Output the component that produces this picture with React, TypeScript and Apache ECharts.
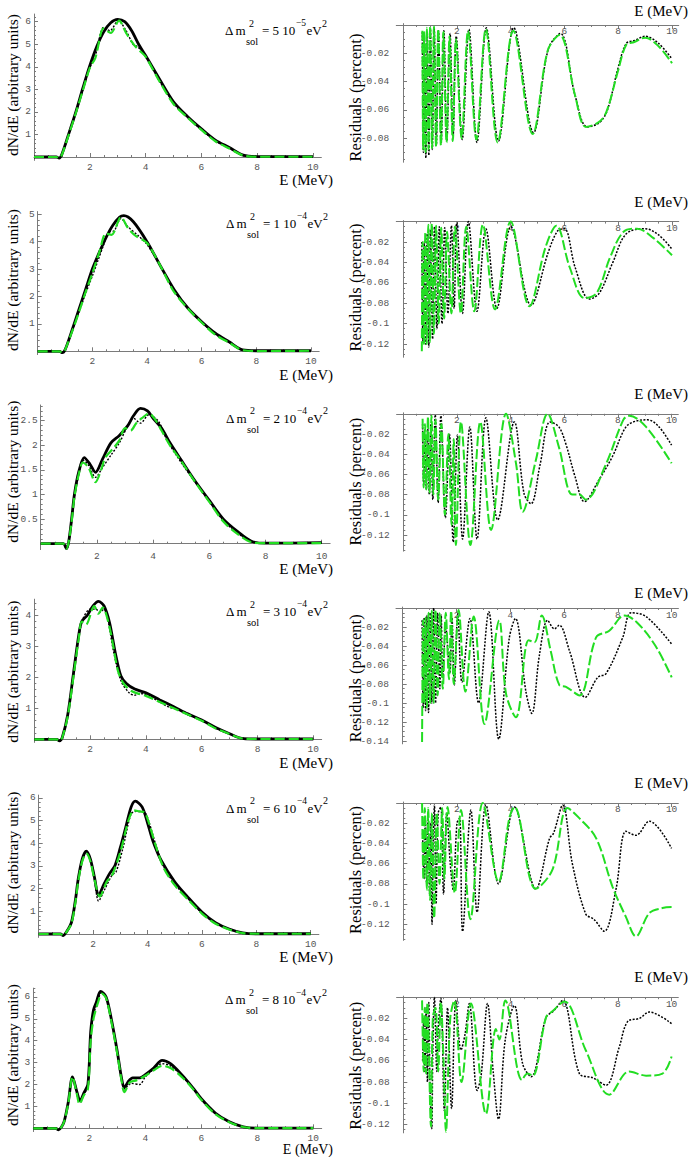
import React, { useEffect, useRef } from "react";
import * as echarts from "echarts";

// ---------------- data ----------------
const energyTicks = [2, 4, 6, 8, 10];
const dm2Mantissa = ["5", "1", "2", "3", "6", "8"];
const dm2Exponent = ["\u22125", "\u22124", "\u22124", "\u22124", "\u22124", "\u22124"];

const spectrumYTicks = [
  [1, 2, 3, 4, 5, 6],
  [1, 2, 3, 4, 5],
  [0.5, 1, 1.5, 2, 2.5],
  [1, 2, 3, 4],
  [1, 2, 3, 4, 5, 6],
  [1, 2, 3, 4, 5, 6],
];
const residualYTicks = [
  [-0.02, -0.04, -0.06, -0.08],
  [-0.02, -0.04, -0.06, -0.08, -0.1, -0.12],
  [-0.02, -0.04, -0.06, -0.08, -0.1, -0.12],
  [-0.02, -0.04, -0.06, -0.08, -0.1, -0.12, -0.14],
  [-0.02, -0.04, -0.06, -0.08, -0.1, -0.12],
  [-0.02, -0.04, -0.06, -0.08, -0.1, -0.12],
];

// Spectra dN/dE — dm2 = 5e-5
const spec1Solid = [[0,0],[0.5,0],[0.8,0],[0.9,-0.05],[1.0,0.12],[1.25,1.05],[1.5,2.0],[1.75,3.05],[2.0,4.05],[2.25,4.9],[2.5,5.55],[2.75,5.95],[3.0,6.1],[3.25,6.0],[3.5,5.6],[3.75,5.0],[4.0,4.5],[4.5,3.45],[5.0,2.45],[5.5,1.8],[6.0,1.25],[6.5,0.75],[7.0,0.42],[7.5,0.08],[8.0,0.02],[9.0,0.02],[10.0,0.02]];
const spec1Dotted = [[0,0],[0.5,0],[0.8,0],[0.9,-0.05],[1.0,0.1],[1.25,1.0],[1.5,1.95],[1.75,2.95],[2.0,3.95],[2.2,4.5],[2.5,5.75],[2.72,5.6],[3.02,6.05],[3.3,5.6],[3.55,5.0],[3.7,4.9],[4.0,4.5],[4.5,3.35],[4.75,2.9],[5.0,2.38],[5.5,1.77],[6.0,1.22],[6.5,0.72],[7.0,0.4],[7.5,0.07],[8.0,0.01],[10.0,0.01]];
const spec1Dashed = [[0,0],[0.5,0],[0.8,0],[0.9,-0.05],[1.0,0.1],[1.25,1.0],[1.5,1.95],[1.75,2.95],[2.0,3.95],[2.2,4.4],[2.5,5.7],[2.75,5.5],[3.05,6.05],[3.3,5.5],[3.6,4.95],[3.8,4.7],[4.0,4.45],[4.5,3.35],[5.0,2.35],[5.5,1.75],[6.0,1.2],[6.5,0.7],[7.0,0.38],[7.5,0.07],[8.0,0.01],[9.0,0.01],[10.0,0.01]];

// dm2 = 1e-4
const spec2Solid = [[0,0],[0.8,0],[0.9,-0.05],[1.0,0.05],[1.25,0.75],[1.5,1.5],[1.75,2.25],[2.0,3.0],[2.25,3.6],[2.5,4.15],[2.75,4.6],[3.0,4.9],[3.15,4.95],[3.5,4.73],[4.0,4.0],[4.5,3.1],[5.0,2.24],[5.5,1.57],[6.0,1.08],[6.5,0.66],[7.0,0.35],[7.5,0.05],[8.0,0.02],[10,0.02]];
const spec2Dotted = [[0,0],[0.8,0],[0.9,-0.05],[1.0,0.05],[1.25,0.7],[1.5,1.4],[1.75,2.1],[2.0,2.75],[2.2,3.3],[2.4,3.85],[2.6,4.35],[2.8,4.4],[3.05,4.85],[3.3,4.55],[3.7,4.2],[4.0,3.9],[4.5,3.1],[4.8,2.55],[5.0,2.2],[5.5,1.56],[6.0,1.07],[6.5,0.62],[7.0,0.33],[7.5,0.04],[8.0,0.01],[10,0.01]];
const spec2Dashed = [[0,0],[0.8,0],[0.9,-0.05],[1.0,0.05],[1.25,0.7],[1.5,1.4],[1.75,2.15],[2.0,2.85],[2.25,3.6],[2.5,4.3],[2.7,4.25],[3.05,4.9],[3.3,4.5],[3.6,4.2],[4.0,3.95],[4.5,3.1],[4.8,2.5],[5.0,2.15],[5.5,1.55],[6.0,1.05],[6.5,0.6],[7.0,0.32],[7.5,0.04],[8.0,0.01],[10,0.02]];

// dm2 = 2e-4
const spec3Solid = [[0,0],[0.8,0],[0.92,-0.1],[1.0,0.05],[1.1,0.5],[1.2,1.0],[1.35,1.45],[1.55,1.75],[1.75,1.62],[1.95,1.45],[2.2,1.72],[2.5,2.05],[2.8,2.2],[3.1,2.4],[3.3,2.6],[3.55,2.75],[3.8,2.7],[4.0,2.55],[4.3,2.35],[4.6,2.05],[5.0,1.7],[5.5,1.27],[6.0,0.88],[6.5,0.5],[7.0,0.25],[7.5,0.05],[8.0,0.01],[10,0.02]];
const spec3Dotted = [[0,0],[0.8,0],[0.92,-0.1],[1.0,0.05],[1.1,0.45],[1.2,0.95],[1.35,1.4],[1.5,1.7],[1.7,1.6],[1.95,1.35],[2.2,1.55],[2.5,1.8],[2.8,2.05],[3.1,2.4],[3.3,2.55],[3.55,2.45],[3.85,2.62],[4.2,2.48],[4.5,2.1],[5.0,1.65],[5.5,1.25],[6.0,0.86],[6.5,0.47],[7.0,0.22],[7.5,0.04],[8.0,0.01],[10,0.01]];
const spec3Dashed = [[0,0],[0.8,0],[0.92,-0.1],[1.0,0.05],[1.1,0.45],[1.2,0.95],[1.35,1.4],[1.5,1.65],[1.7,1.55],[1.95,1.25],[2.15,1.5],[2.3,1.75],[2.6,1.95],[2.8,2.1],[3.0,2.35],[3.2,2.3],[3.4,2.45],[3.6,2.55],[3.85,2.65],[4.1,2.5],[4.3,2.3],[4.6,2.0],[5.0,1.68],[5.5,1.25],[6.0,0.85],[6.5,0.45],[7.0,0.2],[7.5,0.03],[8.0,0.01],[10,0.01]];

// dm2 = 3e-4
const spec4Solid = [[0,0],[0.8,0],[0.9,-0.05],[1.0,0.05],[1.2,0.8],[1.4,2.1],[1.6,3.4],[1.7,3.8],[1.9,4.0],[2.1,4.3],[2.3,4.45],[2.5,4.3],[2.7,3.75],[2.9,2.8],[3.1,2.05],[3.3,1.8],[3.6,1.62],[4.0,1.5],[4.5,1.27],[5.0,1.05],[5.5,0.82],[6.0,0.62],[6.5,0.38],[7.0,0.18],[7.5,0.02],[8.0,0.01],[10,0.01]];
const spec4Dotted = [[0,0],[0.8,0],[0.9,-0.05],[1.0,0.05],[1.2,0.75],[1.4,2.05],[1.6,3.35],[1.75,3.9],[2.0,4.2],[2.2,4.2],[2.35,4.1],[2.5,4.2],[2.65,3.8],[2.83,2.88],[3.1,1.9],[3.4,1.5],[3.6,1.42],[3.8,1.48],[4.2,1.35],[4.8,1.05],[5.2,0.95],[5.5,0.8],[6.0,0.6],[6.5,0.36],[7.0,0.17],[7.5,0.02],[8.0,0.01],[10,0.01]];
const spec4Dashed = [[0,0],[0.8,0],[0.9,-0.05],[1.0,0.05],[1.2,0.75],[1.4,2.0],[1.6,3.3],[1.7,3.8],[1.85,3.7],[2.15,4.3],[2.3,4.05],[2.45,4.25],[2.7,3.6],[3.0,2.2],[3.2,1.8],[3.5,1.55],[4.0,1.4],[4.5,1.2],[5.0,1.0],[5.5,0.8],[6.0,0.6],[6.5,0.35],[7.0,0.17],[7.5,0.02],[8.0,0.01],[10,0.01]];

// dm2 = 6e-4
const spec5Solid = [[0,0],[0.8,0],[0.9,-0.07],[1.0,0.05],[1.2,0.5],[1.35,1.5],[1.45,2.4],[1.6,3.3],[1.75,3.65],[1.9,3.3],[2.05,2.5],[2.2,1.7],[2.4,2.2],[2.6,2.65],[2.8,3.0],[3.0,3.8],[3.2,4.7],[3.4,5.6],[3.55,5.85],[3.8,5.6],[4.0,4.9],[4.2,4.1],[4.5,3.25],[5.0,2.3],[5.5,1.6],[6.0,0.97],[6.5,0.5],[7.0,0.22],[7.5,0.05],[8.0,0.01],[10,0.01]];
const spec5Dotted = [[0,0],[0.8,0],[0.9,-0.07],[1.0,0.05],[1.2,0.45],[1.35,1.45],[1.45,2.35],[1.6,3.25],[1.75,3.6],[1.9,3.25],[2.05,2.4],[2.2,1.45],[2.4,1.9],[2.7,2.6],[2.85,2.75],[3.1,3.8],[3.4,5.3],[3.6,5.4],[3.9,5.35],[4.05,4.95],[4.3,3.95],[4.6,2.95],[5.0,2.2],[5.5,1.55],[6.0,0.93],[6.5,0.47],[7.0,0.21],[7.5,0.04],[8.0,0.01],[10,0.01]];
const spec5Dashed = [[0,0],[0.8,0],[0.9,-0.07],[1.0,0.05],[1.2,0.45],[1.35,1.4],[1.45,2.3],[1.6,3.2],[1.75,3.55],[1.9,3.2],[2.05,2.4],[2.25,1.65],[2.5,2.3],[2.7,2.6],[3.0,3.6],[3.3,5.0],[3.5,5.45],[3.7,5.4],[3.9,5.35],[4.05,4.9],[4.3,3.9],[4.6,2.9],[5.0,2.15],[5.5,1.5],[6.0,0.9],[6.5,0.45],[7.0,0.2],[7.5,0.04],[8.0,0.01],[10,0.01]];

// dm2 = 8e-4
const spec6Solid = [[0,0],[0.8,0],[0.9,-0.07],[1.0,0.05],[1.1,0.3],[1.25,1.2],[1.4,2.35],[1.55,1.7],[1.67,1.25],[1.8,1.6],[1.95,2.0],[2.05,4.4],[2.15,5.4],[2.25,5.75],[2.4,6.25],[2.6,6.0],[2.8,4.9],[3.0,3.5],[3.15,2.3],[3.25,1.85],[3.4,2.15],[3.55,2.3],[3.8,2.3],[4.0,2.45],[4.3,2.75],[4.6,3.1],[4.9,2.95],[5.3,2.45],[5.7,1.85],[6.0,1.35],[6.5,0.7],[7.0,0.3],[7.5,0.07],[8.0,0.01],[10,0.01]];
const spec6Dotted = [[0,0],[0.8,0],[0.9,-0.07],[1.0,0.05],[1.1,0.3],[1.25,1.15],[1.4,2.35],[1.55,1.65],[1.66,1.2],[1.8,1.55],[1.95,1.9],[2.05,4.2],[2.15,5.2],[2.3,5.75],[2.42,6.2],[2.6,5.95],[2.8,4.85],[3.0,3.45],[3.15,2.25],[3.25,1.8],[3.5,2.05],[3.8,2.0],[4.0,2.35],[4.3,2.7],[4.6,2.95],[4.9,2.85],[5.3,2.4],[5.7,1.82],[6.0,1.32],[6.5,0.67],[7.0,0.29],[7.5,0.06],[8.0,0.01],[10,0.01]];
const spec6Dashed = [[0,0],[0.8,0],[0.9,-0.07],[1.0,0.05],[1.1,0.3],[1.25,1.15],[1.4,2.35],[1.55,1.6],[1.65,1.1],[1.8,1.5],[1.95,1.8],[2.05,4.0],[2.15,5.0],[2.3,5.7],[2.45,6.15],[2.6,5.95],[2.8,4.8],[3.0,3.4],[3.15,2.2],[3.25,1.65],[3.45,2.1],[3.7,2.2],[4.0,2.4],[4.3,2.65],[4.6,2.85],[4.9,2.75],[5.3,2.35],[5.7,1.8],[6.0,1.3],[6.5,0.65],[7.0,0.28],[7.5,0.06],[8.0,0.01],[10,0.01]];

// Residuals (percent)
const res1Dotted = [[0.72,-0.005],[0.76,-0.09],[0.8,-0.01],[0.85,-0.094],[0.9,-0.005],[0.96,-0.092],[1.02,-0.003],[1.09,-0.088],[1.16,-0.002],[1.24,-0.085],[1.32,-0.004],[1.42,-0.083],[1.52,-0.004],[1.63,-0.082],[1.75,-0.006],[1.86,-0.079],[1.98,-0.008],[2.2,-0.081],[2.45,-0.003],[2.75,-0.083],[3.1,-0.002],[3.55,-0.082],[4.12,-0.002],[4.85,-0.076],[5.4,-0.017],[5.85,-0.006],[6.4,-0.05],[6.85,-0.072],[7.3,-0.069],[7.6,-0.06],[8.0,-0.03],[8.3,-0.013],[8.6,-0.011],[9.0,-0.008],[9.5,-0.013],[10,-0.024]];
const res1Dashed = [[0.72,-0.004],[0.75,-0.088],[0.79,-0.005],[0.84,-0.09],[0.89,-0.002],[0.95,-0.088],[1.01,-0.001],[1.08,-0.087],[1.15,-0.001],[1.23,-0.086],[1.31,-0.003],[1.41,-0.085],[1.5,-0.005],[1.62,-0.083],[1.73,-0.008],[1.85,-0.082],[1.97,-0.01],[2.18,-0.08],[2.42,-0.004],[2.73,-0.081],[3.08,-0.003],[3.52,-0.083],[4.1,-0.004],[4.82,-0.077],[5.38,-0.018],[5.82,-0.007],[6.4,-0.05],[6.8,-0.072],[7.25,-0.069],[7.55,-0.062],[8.0,-0.032],[8.3,-0.014],[8.6,-0.012],[9.0,-0.009],[9.5,-0.015],[10,-0.027]];

const res2Dotted = [[0.7,-0.02],[0.74,-0.118],[0.79,-0.02],[0.84,-0.12],[0.9,-0.012],[0.96,-0.123],[1.02,-0.008],[1.1,-0.115],[1.17,-0.005],[1.26,-0.105],[1.35,-0.005],[1.45,-0.1],[1.55,-0.006],[1.67,-0.09],[1.8,-0.004],[1.9,-0.085],[2.0,-0.001],[2.21,-0.09],[2.43,0],[2.75,-0.088],[3.08,-0.007],[3.49,-0.085],[4.01,-0.005],[4.76,-0.082],[5.4,-0.03],[5.75,-0.009],[6.0,-0.007],[6.4,-0.045],[6.93,-0.076],[7.3,-0.07],[7.8,-0.04],[8.3,-0.012],[9.0,-0.007],[9.5,-0.013],[10,-0.027]];
const res2Dashed = [[0.7,-0.127],[0.73,-0.02],[0.78,-0.12],[0.83,-0.01],[0.88,-0.12],[0.94,-0.003],[1.0,-0.118],[1.07,-0.002],[1.15,-0.11],[1.23,-0.004],[1.33,-0.1],[1.42,-0.006],[1.53,-0.095],[1.64,-0.01],[1.8,-0.09],[1.93,-0.005],[2.15,-0.09],[2.35,-0.005],[2.65,-0.088],[2.97,-0.003],[3.42,-0.086],[4.0,0],[4.7,-0.083],[5.3,-0.025],[5.7,-0.004],[6.2,-0.045],[6.75,-0.075],[7.2,-0.07],[7.7,-0.035],[8.2,-0.01],[8.7,-0.007],[9.3,-0.016],[10,-0.033]];

const res3Dotted = [[0.72,-0.01],[0.76,-0.07],[0.81,-0.02],[0.86,-0.075],[0.91,-0.015],[0.97,-0.08],[1.03,-0.01],[1.1,-0.085],[1.19,-0.001],[1.3,-0.088],[1.4,-0.002],[1.57,-0.103],[1.72,-0.02],[1.86,-0.127],[2.02,-0.021],[2.21,-0.124],[2.48,-0.013],[2.75,-0.124],[3.08,-0.004],[3.52,-0.105],[4.14,-0.008],[4.5,-0.079],[4.76,-0.089],[5.1,-0.05],[5.47,-0.008],[5.8,-0.013],[6.06,-0.03],[6.4,-0.062],[6.75,-0.087],[7.3,-0.065],[7.8,-0.042],[8.3,-0.013],[8.7,-0.007],[9.1,-0.006],[9.5,-0.012],[10,-0.031]];
const res3Dashed = [[0.72,-0.005],[0.76,-0.073],[0.81,-0.01],[0.86,-0.075],[0.92,-0.003],[0.98,-0.078],[1.05,-0.002],[1.12,-0.08],[1.2,-0.006],[1.3,-0.085],[1.42,-0.01],[1.55,-0.1],[1.68,-0.02],[1.8,-0.11],[1.88,-0.025],[1.96,-0.13],[2.15,-0.008],[2.5,-0.13],[2.87,-0.008],[3.27,-0.115],[3.83,0],[4.2,-0.049],[4.45,-0.097],[4.94,-0.046],[5.38,0],[5.8,-0.033],[6.3,-0.08],[6.56,-0.08],[6.8,-0.085],[7.55,-0.05],[8.2,-0.006],[8.42,-0.002],[9.05,-0.013],[10,-0.049]];

const res4Dotted = [[0.72,-0.013],[0.76,-0.105],[0.8,-0.01],[0.85,-0.108],[0.9,-0.008],[0.96,-0.11],[1.02,-0.005],[1.08,-0.1],[1.15,0],[1.22,-0.1],[1.3,-0.005],[1.38,-0.085],[1.43,-0.007],[1.49,-0.073],[1.6,-0.02],[1.75,-0.068],[1.83,-0.01],[1.92,-0.081],[2.05,-0.006],[2.2,-0.078],[2.5,-0.011],[2.82,-0.1],[3.2,-0.004],[3.57,-0.138],[3.96,-0.032],[4.19,-0.011],[4.58,-0.088],[4.8,-0.111],[5.08,-0.05],[5.39,-0.013],[5.64,-0.022],[5.82,-0.018],[6.2,-0.045],[6.79,-0.094],[7.25,-0.073],[7.56,-0.069],[8.18,-0.031],[8.49,-0.005],[9.05,-0.009],[10,-0.038]];
const res4Dashed = [[0.72,-0.141],[0.76,-0.013],[0.8,-0.1],[0.85,-0.01],[0.9,-0.105],[0.96,-0.005],[1.02,-0.1],[1.08,-0.003],[1.15,-0.1],[1.22,-0.002],[1.3,-0.092],[1.38,-0.005],[1.49,-0.085],[1.6,-0.005],[1.72,-0.075],[1.8,-0.003],[1.9,-0.08],[2.08,-0.002],[2.33,-0.088],[2.64,-0.009],[3.04,-0.122],[3.59,-0.013],[3.84,-0.09],[4.21,-0.115],[4.68,-0.034],[4.9,-0.036],[5.17,-0.008],[5.5,-0.045],[5.82,-0.081],[6.07,-0.083],[6.57,-0.092],[7.19,-0.031],[7.68,-0.024],[8.24,-0.008],[8.7,-0.015],[9.4,-0.04],[10,-0.073]];

const res5Dotted = [[0.72,-0.03],[0.77,-0.075],[0.82,-0.015],[0.87,-0.08],[0.92,-0.01],[0.98,-0.09],[1.03,-0.02],[1.07,-0.12],[1.12,-0.03],[1.16,-0.002],[1.22,-0.1],[1.3,-0.01],[1.4,-0.004],[1.5,-0.09],[1.62,-0.01],[1.75,-0.06],[1.86,-0.086],[2.0,-0.02],[2.1,-0.015],[2.21,-0.127],[2.52,-0.007],[2.75,-0.108],[3.08,-0.002],[3.55,-0.08],[4.14,-0.004],[4.94,-0.085],[5.45,-0.035],[5.6,-0.03],[5.94,-0.002],[6.3,-0.06],[6.8,-0.11],[7.1,-0.115],[7.49,-0.127],[7.93,-0.085],[8.3,-0.028],[8.67,-0.032],[9.17,-0.018],[10,-0.045]];
const res5Dashed = [[0.7,0],[0.75,-0.076],[0.8,-0.005],[0.88,-0.086],[0.93,-0.005],[1.0,-0.096],[1.07,-0.01],[1.15,-0.114],[1.25,-0.01],[1.35,-0.08],[1.45,-0.005],[1.53,-0.075],[1.65,-0.004],[1.92,-0.089],[2.15,-0.007],[2.5,-0.115],[2.96,0],[3.55,-0.078],[3.95,-0.015],[4.14,-0.004],[4.94,-0.085],[5.56,-0.066],[6.12,-0.005],[6.56,-0.015],[7.19,-0.035],[7.8,-0.083],[8.3,-0.113],[8.67,-0.132],[9.17,-0.109],[9.66,-0.104],[10,-0.103]];

const res6Dotted = [[0.72,-0.06],[0.76,-0.02],[0.8,-0.07],[0.85,-0.01],[0.9,-0.08],[0.95,-0.005],[1.0,-0.09],[1.06,-0.124],[1.1,-0.05],[1.16,0],[1.25,-0.07],[1.3,-0.03],[1.4,-0.001],[1.53,-0.107],[1.65,-0.01],[1.8,-0.105],[1.96,-0.003],[2.15,-0.05],[2.3,-0.035],[2.46,-0.006],[2.75,-0.088],[2.9,-0.074],[3.14,-0.006],[3.35,-0.07],[3.55,-0.115],[3.8,-0.04],[4.14,-0.008],[4.45,-0.063],[4.76,-0.075],[5.32,-0.019],[5.6,-0.013],[5.94,-0.003],[6.56,-0.072],[7.06,-0.076],[7.55,-0.083],[8.05,-0.047],[8.36,-0.023],[8.8,-0.02],[9.17,-0.014],[10,-0.025]];
const res6Dashed = [[0.7,-0.003],[0.76,-0.07],[0.8,-0.01],[0.85,-0.072],[0.9,-0.005],[1.03,-0.122],[1.1,-0.02],[1.2,-0.01],[1.3,-0.07],[1.4,-0.005],[1.5,-0.06],[1.59,-0.127],[1.75,-0.02],[1.9,-0.003],[2.17,-0.08],[2.52,-0.006],[3.08,-0.11],[3.45,-0.03],[3.58,-0.04],[3.8,-0.003],[4.42,-0.078],[4.63,-0.072],[4.82,-0.074],[5.32,-0.019],[5.57,-0.013],[6.0,-0.004],[6.8,-0.05],[7.68,-0.092],[8.42,-0.07],[9.05,-0.074],[9.66,-0.072],[10,-0.056]];

const spectra = [
  [spec1Solid, spec1Dotted, spec1Dashed],
  [spec2Solid, spec2Dotted, spec2Dashed],
  [spec3Solid, spec3Dotted, spec3Dashed],
  [spec4Solid, spec4Dotted, spec4Dashed],
  [spec5Solid, spec5Dotted, spec5Dashed],
  [spec6Solid, spec6Dotted, spec6Dashed],
];
const residuals = [
  [res1Dotted, res1Dashed],
  [res2Dotted, res2Dashed],
  [res3Dotted, res3Dashed],
  [res4Dotted, res4Dashed],
  [res5Dotted, res5Dashed],
  [res6Dotted, res6Dashed],
];

// ---------------- layout ----------------
const SPEC_GEOM = [
  { left: 34, sx: 27.9, y0: 157, sy: 22.55, ymax: 6.34, ymin: -0.15, labelY: 85, annX: 225, annBase: 35, eY: 180, eFs: 15 },
  { left: 37.7, sx: 27.33, y0: 351.3, sy: 27.4, ymax: 5.1, ymin: -0.12, labelY: 280, annX: 226, annBase: 228, eY: 374.5, eFs: 15 },
  { left: 40.7, sx: 28.1, y0: 543.7, sy: 49.2, ymax: 2.82, ymin: -0.12, labelY: 471.7, annX: 226, annBase: 422.7, eY: 569, eFs: 15 },
  { left: 34.3, sx: 27.9, y0: 739.3, sy: 31, ymax: 4.52, ymin: -0.1, labelY: 671.7, annX: 226, annBase: 616, eY: 762.5, eFs: 15 },
  { left: 38.7, sx: 27.2, y0: 934, sy: 22.7, ymax: 6.12, ymin: -0.15, labelY: 862.5, annX: 226, annBase: 812.7, eY: 957, eFs: 15 },
  { left: 33.3, sx: 28.0, y0: 1128.3, sy: 21.9, ymax: 6.4, ymin: -0.15, labelY: 1055, annX: 225, annBase: 1004.3, eY: 1149.5, eFs: 14 },
];
const SPEC_XMAX = 10.3;
const RES_GEOM = [
  { axisX: 403, sx: 26.9, y0: 25, s: 1415, ymin: -0.097, labelY: 97.5, eY: 11 },
  { axisX: 403, sx: 26.9, y0: 221.6, s: 1020, ymin: -0.133, labelY: 287.5, eY: 202 },
  { axisX: 403.3, sx: 26.83, y0: 413.8, s: 1010, ymin: -0.136, labelY: 481.7, eY: 394 },
  { axisX: 402.7, sx: 26.9, y0: 608, s: 950, ymin: -0.143, labelY: 678.3, eY: 592.5 },
  { axisX: 403.3, sx: 26.83, y0: 803, s: 1010, ymin: -0.136, labelY: 870, eY: 782.5 },
  { axisX: 403.3, sx: 26.83, y0: 997.2, s: 1060, ymin: -0.128, labelY: 1065.8, eY: 977 },
];
const RES_XMIN = -0.25;
const RES_XMAX = 10.25;
const RES_YMAX = 0.001;

const AXIS_COLOR = "#7a7a7a";
const TICK_FONT = { fontFamily: "Liberation Mono", fontSize: 9.5, color: "#555" };
const SERIF = "Liberation Serif";
const GREEN = "#22dd22";

function minorTicks(from: number, to: number, step: number, major: number) {
  const out: number[] = [];
  const n = Math.floor((to - from) / step + 1e-6);
  for (let k = 0; k <= n; k++) {
    const v = Math.round((from + k * step) * 100000) / 100000;
    const r = v / major;
    if (Math.abs(r - Math.round(r)) > 1e-6) out.push(v);
  }
  return out;
}

function txt(x: number, y: number, text: string, fontSize: number, align = "left", rotation = 0) {
  return {
    type: "text",
    x,
    y,
    rotation,
    silent: true,
    z: 100,
    style: {
      text,
      fill: "#000",
      fontFamily: SERIF,
      fontSize,
      align,
      textAlign: align,
      verticalAlign: "middle",
      textVerticalAlign: "middle",
    },
  };
}

function buildOption() {
  const grid: any[] = [];
  const xAxis: any[] = [];
  const yAxis: any[] = [];
  const series: any[] = [];
  const elements: any[] = [];
  const lineSty = { color: AXIS_COLOR, width: 1 };
  const fmt = (v: number) => String(v);

  const addPanel = (
    p: number,
    g: { left: number; top: number; width: number; height: number },
    xr: [number, number],
    yr: [number, number],
    yTicks: number[],
    yMinor: number[],
    xMinor: number[],
    right: boolean,
    yLabelMargin: number
  ) => {
    grid.push({ left: g.left, top: g.top, width: g.width, height: g.height, outerBoundsMode: "none", containLabel: false });
    const xPos = right ? "top" : "bottom";
    xAxis.push({
      gridIndex: p, type: "value", min: xr[0], max: xr[1], position: xPos,
      axisLine: { show: true, onZero: true, onZeroAxisIndex: 2 * p, lineStyle: lineSty },
      axisTick: { show: true, inside: true, length: 4, customValues: energyTicks, lineStyle: lineSty },
      axisLabel: { show: true, inside: right, margin: right ? 3 : 2, customValues: energyTicks, formatter: fmt, ...TICK_FONT },
      splitLine: { show: false },
    });
    xAxis.push({
      gridIndex: p, type: "value", min: xr[0], max: xr[1], position: xPos,
      axisLine: { show: false, onZero: true, onZeroAxisIndex: 2 * p + 1 },
      axisTick: { show: true, inside: true, length: 2, customValues: xMinor, lineStyle: lineSty },
      axisLabel: { show: false },
      splitLine: { show: false },
    });
    yAxis.push({
      gridIndex: p, type: "value", min: yr[0], max: yr[1], position: "left",
      axisLine: { show: true, onZero: true, onZeroAxisIndex: 2 * p, lineStyle: lineSty },
      axisTick: { show: true, inside: true, length: 4, customValues: yTicks, lineStyle: lineSty },
      axisLabel: { show: true, margin: yLabelMargin, customValues: yTicks, formatter: fmt, ...TICK_FONT },
      splitLine: { show: false },
    });
    yAxis.push({
      gridIndex: p, type: "value", min: yr[0], max: yr[1], position: "left",
      axisLine: { show: false, onZero: true, onZeroAxisIndex: 2 * p + 1 },
      axisTick: { show: true, inside: true, length: 2, customValues: yMinor, lineStyle: lineSty },
      axisLabel: { show: false },
      splitLine: { show: false },
    });
  };

  const line = (p: number, data: number[][], style: any, z: number, smooth: number) => ({
    type: "line",
    xAxisIndex: 2 * p,
    yAxisIndex: 2 * p,
    data,
    showSymbol: false,
    symbol: "none",
    smooth,
    clip: false,
    silent: true,
    z,
    lineStyle: style,
  });

  // Spectrum panels
  SPEC_GEOM.forEach((gm, r) => {
    const p = r;
    const top = gm.y0 - gm.ymax * gm.sy;
    const height = (gm.ymax - gm.ymin) * gm.sy;
    const width = SPEC_XMAX * gm.sx;
    const yT = spectrumYTicks[r];
    const yMajor = yT[1] - yT[0];
    addPanel(
      p,
      { left: gm.left, top, width, height },
      [0, SPEC_XMAX],
      [gm.ymin, gm.ymax],
      yT,
      minorTicks(0, gm.ymax, yMajor / 5, yMajor),
      minorTicks(0, 10, 0.5, 2),
      false,
      3
    );
    const [solid, dotted, dashed] = spectra[r];
    series.push(line(p, solid, { color: "#000", width: 2.8 }, 2, 0.3));
    series.push(line(p, dotted, { color: "#000", width: 1.4, type: [2, 1.6] }, 3, 0.3));
    series.push(line(p, dashed, { color: GREEN, width: 2.2, type: [10, 4] }, 4, 0.3));

    elements.push(txt(12, gm.labelY, "dN/dE (arbitrary units)", 15.5, "center", Math.PI / 2));
    elements.push(txt(333, gm.eY, "E (MeV)", gm.eFs, "right"));
    // annotation: Δm²_sol = M 10^e eV²
    const X0 = gm.annX;
    const B = gm.annBase;
    const mid = (fs: number, base: number) => base - 0.34 * fs;
    elements.push(txt(X0, mid(13, B), "\u0394", 13));
    elements.push(txt(X0 + 10.5, mid(13, B), "m", 13));
    elements.push(txt(X0 + 24, mid(10, B - 8.5), "2", 10));
    elements.push(txt(X0 + 21, mid(10.5, B + 10), "sol", 10.5));
    elements.push(txt(X0 + 37, mid(13, B), "= " + dm2Mantissa[r] + " 10", 13));
    elements.push(txt(X0 + 71, mid(9.5, B - 8.5), dm2Exponent[r], 9.5));
    elements.push(txt(X0 + 81.5, mid(13, B), "eV", 13));
    elements.push(txt(X0 + 97, mid(10, B - 8.5), "2", 10));
  });

  // Residual panels
  RES_GEOM.forEach((gm, r) => {
    const p = 6 + r;
    const left = gm.axisX + RES_XMIN * gm.sx;
    const width = (RES_XMAX - RES_XMIN) * gm.sx;
    const top = gm.y0 - RES_YMAX * gm.s;
    const height = (RES_YMAX - gm.ymin) * gm.s;
    addPanel(
      p,
      { left, top, width, height },
      [RES_XMIN, RES_XMAX],
      [gm.ymin, RES_YMAX],
      residualYTicks[r],
      minorTicks(-Math.floor(-gm.ymin / 0.005) * 0.005, 0, 0.005, 0.02).filter((v) => v !== 0),
      minorTicks(0, 10, 0.5, 2),
      true,
      7
    );
    const [dotted, dashed] = residuals[r];
    series.push(line(p, dotted, { color: "#000", width: 1.5, type: [2, 1.5] }, 3, 0.35));
    series.push(line(p, dashed, { color: GREEN, width: 2, type: [10, 3] }, 4, 0.35));

    elements.push(txt(355, gm.labelY, "Residuals (percent)", 16.5, "center", Math.PI / 2));
    elements.push(txt(688, gm.eY, "E (MeV)", 15, "right"));
  });

  return {
    animation: false,
    backgroundColor: "#fff",
    grid,
    xAxis,
    yAxis,
    series,
    graphic: { elements },
  };
}

export default function App() {
  const ref = useRef<HTMLDivElement>(null);
  useEffect(() => {
    if (!ref.current) return;
    const chart = echarts.init(ref.current, undefined, { renderer: "svg" });
    chart.setOption(buildOption() as any);
    return () => chart.dispose();
  }, []);
  return (
    <div
      ref={ref}
      style={{ position: "fixed", left: 0, top: 0, width: 692, height: 1157, background: "#fff" }}
    />
  );
}
